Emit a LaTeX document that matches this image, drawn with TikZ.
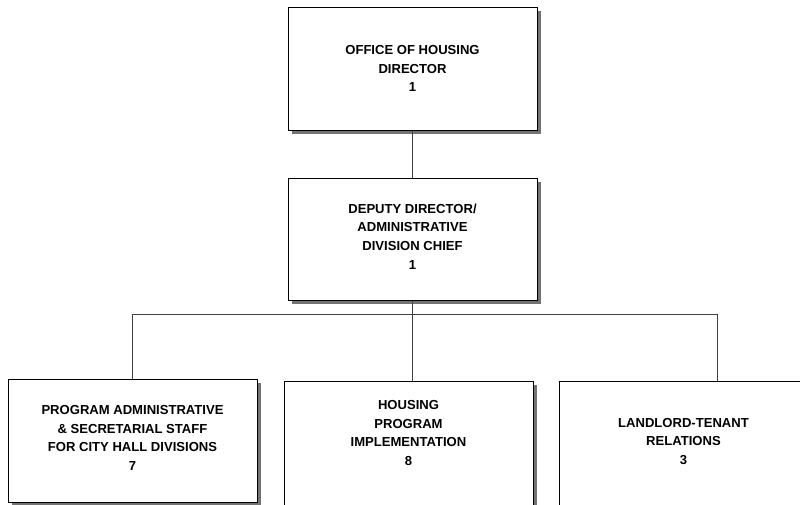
\documentclass[tikz,border=0pt]{standalone}
\usepackage{fontspec}
\setmainfont{Liberation Sans}
\usetikzlibrary{shadows}

\begin{document}
\begin{tikzpicture}[
    x=0.75pt, y=-0.75pt,
    unitbox/.style={
        rectangle,
        draw=black,
        fill=white,
        line width=0.75pt,
        align=center,
        font=\bfseries\fontsize{9.8pt}{14pt}\selectfont,
        inner sep=0pt,
        minimum width=186.75pt,
        minimum height=92.25pt,
        drop shadow={shadow xshift=3pt, shadow yshift=-3pt, fill=black!55, opacity=1}
    },
    link/.style={draw=black!75, line width=0.75pt}
]
\useasboundingbox (0,0) rectangle (800,504);
\clip (0,0) rectangle (800,504);

% top of the chart
\node[unitbox] (office) at (412.5,68.5) {OFFICE OF HOUSING\\DIRECTOR\\1};
\node[unitbox, minimum height=91.5pt, text depth=4pt] (deputy) at (412.5,239)
{DEPUTY DIRECTOR/\\ADMINISTRATIVE\\DIVISION CHIEF\\1};

% divisions
\node[unitbox, text depth=4pt] (staff) at (132.5,440.5)
{PROGRAM ADMINISTRATIVE\\\& SECRETARIAL STAFF\\FOR CITY HALL DIVISIONS\\7};
\node[unitbox, minimum height=97.5pt, text depth=19.5pt] (housing) at (408.5,446)
{HOUSING\\PROGRAM\\IMPLEMENTATION\\8};
\node[unitbox, minimum height=97.5pt, text depth=7pt] (tenant) at (683.5,446)
{LANDLORD-TENANT\\RELATIONS\\3};

% connectors
\coordinate (bus) at (412.5,314);
\coordinate (tdrop) at (717,381);
\draw[link] (office) -- (deputy);
\draw[link] (deputy) -- (bus);
\draw[link] (bus) -| (staff.north);
\draw[link] (bus) -- (bus |- housing.north);
\draw[link] (bus) -| (tdrop);

\end{tikzpicture}
\end{document}
